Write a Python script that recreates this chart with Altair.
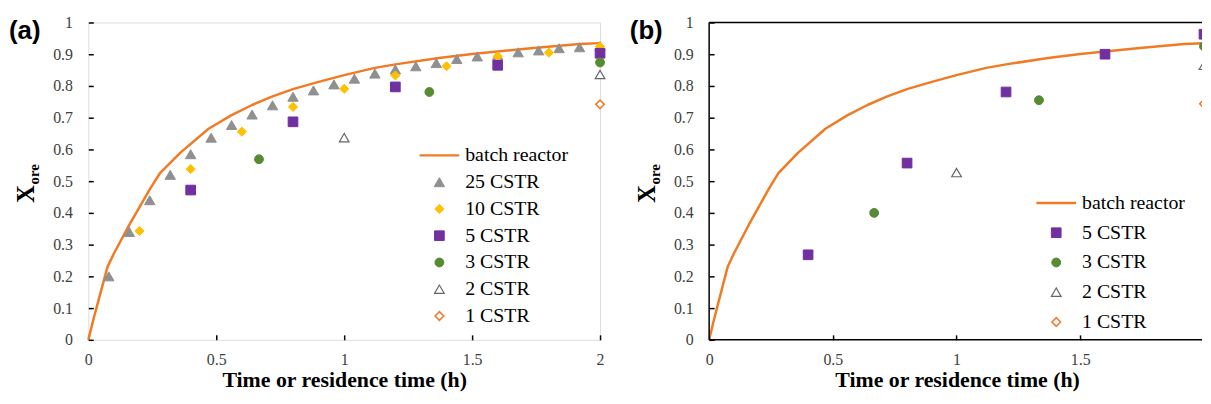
import altair as alt
import pandas as pd

# ---------------- data ----------------
batch_t = [0, 0.02, 0.04, 0.075, 0.10, 0.16, 0.20, 0.24, 0.28, 0.36, 0.47, 0.56, 0.64, 0.72,
           0.80, 0.90, 1.00, 1.12, 1.20, 1.37, 1.50, 1.73, 1.92, 2.00]
batch_x = [0, 0.065, 0.125, 0.23, 0.272, 0.362, 0.418, 0.474, 0.525, 0.59, 0.665, 0.708, 0.74,
           0.767, 0.79, 0.813, 0.834, 0.857, 0.868, 0.888, 0.901, 0.919, 0.932, 0.935]

# panel (a)
a25_t = [0.08, 0.16, 0.24, 0.32, 0.40, 0.48, 0.56, 0.64, 0.72, 0.80, 0.88, 0.96, 1.04,
         1.12, 1.20, 1.28, 1.36, 1.44, 1.52, 1.60, 1.68, 1.76, 1.84, 1.92, 2.00]
a25_x = [0.20, 0.34, 0.44, 0.52, 0.585, 0.637, 0.677, 0.71, 0.739, 0.766, 0.786, 0.805, 0.823,
         0.839, 0.852, 0.862, 0.872, 0.885, 0.893, 0.896, 0.906, 0.912, 0.919, 0.922, 0.926]
a10_t = [0.2, 0.4, 0.6, 0.8, 1.0, 1.2, 1.4, 1.6, 1.8, 2.0]
a10_x = [0.343, 0.538, 0.656, 0.734, 0.791, 0.833, 0.862, 0.893, 0.905, 0.924]
a5_t = [0.4, 0.8, 1.2, 1.6, 2.0]
a5_x = [0.472, 0.687, 0.797, 0.865, 0.903]
a3_t = [0.667, 1.333, 2.0]
a3_x = [0.569, 0.781, 0.874]
a2_t = [1.0, 2.0]
a2_x = [0.637, 0.836]
a1_t = [2.0]
a1_x = [0.742]

# panel (b)
b5_t = [0.4, 0.8, 1.2, 1.6, 2.0]
b5_x = [0.268, 0.557, 0.781, 0.900, 0.963]
b3_t = [0.667, 1.333, 2.0]
b3_x = [0.40, 0.755, 0.925]
b2_t = [1.0, 2.0]
b2_x = [0.527, 0.865]
b1_t = [2.0]
b1_x = [0.744]

series_all = ["batch reactor", "25 CSTR", "10 CSTR", "5 CSTR", "3 CSTR", "2 CSTR", "1 CSTR"]
series_b = ["batch reactor", "5 CSTR", "3 CSTR", "2 CSTR", "1 CSTR"]

x_ticks_a = [0, 0.5, 1, 1.5, 2]
x_ticks_b = [0, 0.5, 1, 1.5]          # the "2" of panel (b) falls outside the picture
y_ticks = [0, 0.1, 0.2, 0.3, 0.4, 0.5, 0.6, 0.7, 0.8, 0.9, 1.0]
x_end_b = 1.992                        # panel (b) is cut by the right edge of the figure

# ---------------- styles ----------------
STYLE = {
    "batch reactor": dict(stroke="#F07B24", fill="transparent", shape="M-5,0H5", sw=2.5, size=64),
    "25 CSTR": dict(stroke="#909090", fill="#909090", shape="triangle-up", sw=1, size=110),
    "10 CSTR": dict(stroke="#FFC000", fill="#FFC000", shape="diamond", sw=1, size=85),
    "5 CSTR": dict(stroke="#7030A0", fill="#7030A0", shape="square", sw=1, size=95),
    "3 CSTR": dict(stroke="#568B34", fill="#568B34", shape="circle", sw=1, size=80),
    "2 CSTR": dict(stroke="#666666", fill="white", shape="triangle-up", sw=1.2, size=95),
    "1 CSTR": dict(stroke="#ED7D31", fill="white", shape="diamond", sw=1.6, size=75),
}

SERIF = "Liberation Serif"
H = 320


def panel(tag, curve, pts, domain, width, x_end, x_ticks, legend_x, legend_y, row_pad,
          clip, frame):
    def sc(key):
        return alt.Scale(domain=domain, range=[STYLE[s][key] for s in domain])

    def sc_num(key):
        return alt.Scale(type="ordinal", domain=domain, range=[STYLE[s][key] for s in domain])

    leg = alt.Legend(orient="none", legendX=legend_x, legendY=legend_y, title=None,
                     labelFont=SERIF, labelFontSize=20, labelColor="#000000",
                     labelOffset=16, rowPadding=row_pad, symbolOpacity=1,
                     labelLimit=300)

    xax = alt.Axis(values=x_ticks, format=".1~f", title="Time or residence time (h)",
                   titleFont=SERIF, titleFontSize=22, titleFontWeight="bold", titleColor="#000000",
                   titleBaseline="alphabetic", titleAlign="center",
                   titleX=258 if width > 510 else 250, titleY=52,
                   labelFont=SERIF, labelFontSize=16, labelColor="#404040", labelPadding=12,
                   tickColor="#000000", tickWidth=1.5, tickSize=5, offset=-5,
                   domain=False, grid=False, labelFlush=False, labelOverlap=False)
    yax = alt.Axis(values=y_ticks, format=".1~f", title=None,
                   labelFont=SERIF, labelFontSize=16, labelColor="#404040", labelPadding=16,
                   tickColor="#000000", tickWidth=1.5, tickSize=5, offset=-5,
                   domain=False, grid=False, labelFlush=False, labelOverlap=False)

    xs = alt.Scale(domain=[0, x_end], nice=False)
    ys = alt.Scale(domain=[0, 1], nice=False)

    line = alt.Chart(curve).mark_line(strokeJoin="round", clip=clip).encode(
        x=alt.X("t:Q", scale=xs, axis=xax),
        y=alt.Y("X:Q", scale=ys, axis=yax),
        stroke=alt.Stroke("series:N", scale=sc("stroke"), legend=leg),
        strokeWidth=alt.StrokeWidth("series:N", scale=sc_num("sw"), legend=leg),
    )
    points = alt.Chart(pts).mark_point(opacity=1, filled=False, clip=clip).encode(
        x=alt.X("t:Q", scale=xs, axis=xax),
        y=alt.Y("X:Q", scale=ys, axis=yax),
        fill=alt.Fill("series:N", scale=sc("fill"), legend=leg),
        stroke=alt.Stroke("series:N", scale=sc("stroke"), legend=leg),
        shape=alt.Shape("series:N", scale=sc("shape"), legend=leg),
        strokeWidth=alt.StrokeWidth("series:N", scale=sc_num("sw"), legend=leg),
        size=alt.Size("series:N", scale=sc_num("size"), legend=leg),
        order=alt.Order("k:Q"),
    )
    tag_txt = alt.Chart(pd.DataFrame({"lab": [tag]})).mark_text(
        font="Liberation Sans", fontSize=26, fontWeight="bold", align="left",
        baseline="alphabetic", color="#000000"
    ).encode(text="lab:N", x=alt.value(-80), y=alt.value(17))
    big_x = alt.Chart(pd.DataFrame({"lab": ["X"]})).mark_text(
        font=SERIF, fontSize=25, fontWeight="bold", align="center", baseline="middle",
        angle=270, color="#000000"
    ).encode(text="lab:N", x=alt.value(-63), y=alt.value(173))
    sub = alt.Chart(pd.DataFrame({"lab": ["ore"]})).mark_text(
        font=SERIF, fontSize=15, fontWeight="bold", align="center", baseline="middle",
        angle=270, color="#000000"
    ).encode(text="lab:N", x=alt.value(-55), y=alt.value(153))

    layers = [line, points, tag_txt, big_x, sub]
    props = dict(width=width, height=H)
    if frame:
        one = pd.DataFrame({"k": [0]})
        fr = dict(color="#000000", strokeWidth=1.5)
        top = alt.Chart(one).mark_rule(**fr).encode(
            x=alt.value(0), x2=alt.value(width), y=alt.value(0))
        left = alt.Chart(one).mark_rule(**fr).encode(
            x=alt.value(0), y=alt.value(0), y2=alt.value(H))
        bottom = alt.Chart(one).mark_rule(**fr).encode(
            x=alt.value(0), x2=alt.value(width), y=alt.value(H))
        layers += [top, left, bottom]
        props["view"] = alt.ViewConfig(stroke="transparent")
    return alt.layer(*layers).properties(**props)


def make_points(groups):
    rows = []
    k = 0
    for name, ts, xs in groups:
        for t, x in zip(ts, xs):
            rows.append({"t": t, "X": x, "series": name, "k": k})
            k += 1
    return pd.DataFrame(rows)


curve = pd.DataFrame({"t": batch_t, "X": batch_x, "series": "batch reactor"})

pts_a = make_points([("25 CSTR", a25_t, a25_x), ("10 CSTR", a10_t, a10_x),
                     ("5 CSTR", a5_t, a5_x), ("3 CSTR", a3_t, a3_x),
                     ("2 CSTR", a2_t, a2_x), ("1 CSTR", a1_t, a1_x)])
pts_b = make_points([("5 CSTR", b5_t, b5_x), ("3 CSTR", b3_t, b3_x),
                     ("2 CSTR", b2_t, b2_x), ("1 CSTR", b1_t, b1_x)])

pa = panel("(a)", curve, pts_a, series_all, 516, 2, x_ticks_a, 344, 124, 7, False, False)
pb = panel("(b)", curve, pts_b, series_b, 497, x_end_b, x_ticks_b, 340, 172, 10, True, True)

chart = alt.hconcat(pa, pb, spacing=110, bounds="flush").resolve_scale(
    x="independent", y="independent", stroke="independent", fill="independent",
    shape="independent", strokeWidth="independent", size="independent"
).properties(
    padding={"left": 0, "top": 4, "right": -1, "bottom": 0}
).configure_view(
    stroke="#000000", strokeWidth=1.5
).configure(background="white")

chart.save("out.html", embed_options={"renderer": "svg", "actions": False})
